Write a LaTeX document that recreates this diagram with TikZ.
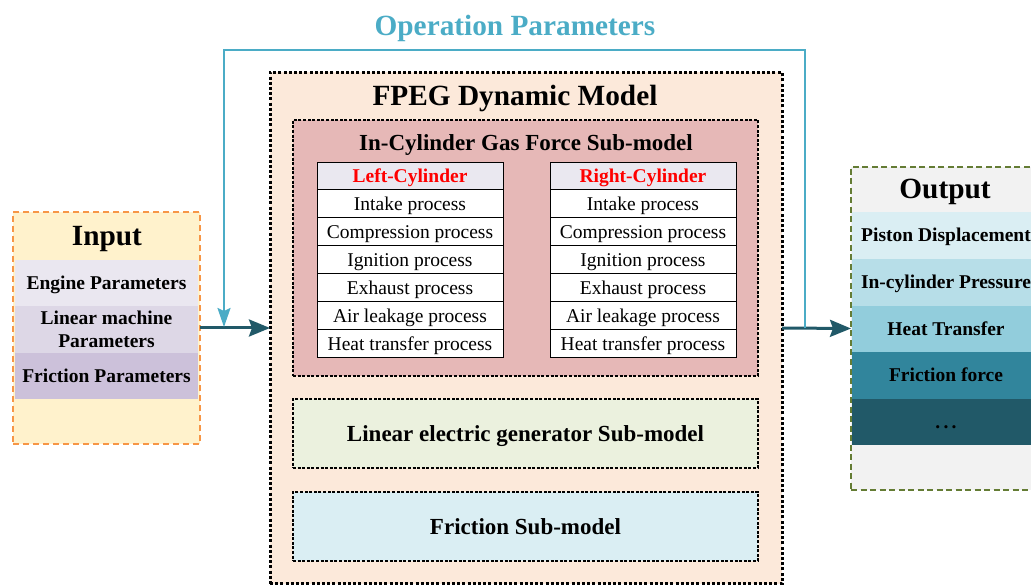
\documentclass[tikz,border=0pt]{standalone}
\usepackage{fontspec}
\setmainfont{Liberation Serif}
\usetikzlibrary{arrows.meta}
\definecolor{opblue}{RGB}{75,172,198}
\definecolor{darkteal}{RGB}{33,89,104}
\definecolor{peach}{RGB}{252,233,218}
\definecolor{rose}{RGB}{230,184,183}
\definecolor{hdr}{RGB}{234,232,240}
\definecolor{inyellow}{RGB}{255,242,204}
\definecolor{inorange}{RGB}{247,150,70}
\definecolor{inrowa}{RGB}{234,231,240}
\definecolor{inrowb}{RGB}{221,215,230}
\definecolor{inrowc}{RGB}{204,193,218}
\definecolor{outgreen}{RGB}{100,124,52}
\definecolor{outgray}{RGB}{242,242,242}
\definecolor{outa}{RGB}{218,238,243}
\definecolor{outb}{RGB}{183,222,232}
\definecolor{outc}{RGB}{146,205,220}
\definecolor{outd}{RGB}{49,133,156}
\definecolor{oute}{RGB}{33,89,104}
\definecolor{gengreen}{RGB}{235,241,222}
\definecolor{fricblue}{RGB}{218,238,243}
\newcommand{\smallfs}{\fontsize{19.5}{23}\selectfont}
\newcommand{\midfs}{\fontsize{23}{26}\selectfont\bfseries}
\newcommand{\bigfs}{\fontsize{29.3}{32}\selectfont\bfseries}
\tikzset{
  x=1pt, y=-1pt,
  area/.style={rectangle, inner sep=0pt, outer sep=0pt},
  outerbox/.style={area, draw=black, line width=3pt, dash pattern=on 3pt off 2.2pt, fill=peach},
  subbox/.style={area, draw=black, line width=2pt, dash pattern=on 3pt off 1.6pt},
  subtext/.style={font=\midfs, text height=18.5pt, text depth=3pt},
  cellbox/.style={area, draw=black, line width=0.9pt, fill=white, minimum width=186pt, minimum height=27.9pt, font=\smallfs, text height=17.5pt, text depth=4.2pt},
  hdrbox/.style={cellbox, fill=hdr, font=\smallfs\bfseries, text=red},
  rowbox/.style={area, font=\smallfs\bfseries, align=center},
  onerow/.style={rowbox, text height=17pt, text depth=4.5pt},
  mainarr/.style={draw=darkteal, line width=3pt, -{Stealth[length=21pt,width=17pt,inset=3pt]}},
  fbline/.style={draw=opblue, line width=2pt, -{Stealth[length=19pt,width=13pt,inset=3pt]}},
  title/.style={font=\bigfs, inner sep=0pt}
}
\begin{document}
\begin{tikzpicture}
\useasboundingbox (0,0) rectangle (1031,585);

% Operation parameters label
\node[title, text=opblue] (optitle) at (515,28) {Operation Parameters};

% Input box
\node[area, draw=inorange, line width=2.5pt, dash pattern=on 6pt off 4pt, fill=inyellow, minimum width=187pt, minimum height=232pt] (input) at (106.5,328) {};
\node[title] (intitle) at (107,239) {Input};
\node[onerow, fill=inrowa, minimum width=183pt, minimum height=46pt] (in1) at (106.5,283) {Engine Parameters};
\node[rowbox, fill=inrowb, minimum width=183pt, minimum height=47pt] (in2) at (106.5,329.5) {Linear machine\\Parameters};
\node[onerow, fill=inrowc, minimum width=183pt, minimum height=46pt] (in3) at (106.5,376) {Friction Parameters};

% FPEG box
\node[outerbox, minimum width=512pt, minimum height=511pt] (fpeg) at (526,328) {};
\node[title] (fpegtitle) at (515,99) {FPEG Dynamic Model};

% In-cylinder box
\node[subbox, fill=rose, minimum width=465pt, minimum height=256pt] (incyl) at (525.5,248) {};
\node[font=\midfs, inner sep=0pt] (incyltitle) at (526,145.5) {In-Cylinder Gas Force Sub-model};

% tables
\node[hdrbox] (lh) at (410,176) {Left-Cylinder};
\node[hdrbox] (rh) at (643,176) {Right-Cylinder};
\foreach \t [count=\i] in {Intake process, Compression process, Ignition process, Exhaust process, Air leakage process, Heat transfer process}{
  \node[cellbox] (l\i) at (410,{176+27.9*\i}) {\t};
  \node[cellbox] (r\i) at (643,{176+27.9*\i}) {\t};
}

% generator and friction
\node[subbox, subtext, fill=gengreen, minimum width=465pt, minimum height=69pt] (gen) at (525.5,433.5) {Linear electric generator Sub-model};
\node[subbox, subtext, fill=fricblue, minimum width=465pt, minimum height=69pt] (fric) at (525.5,526.5) {Friction Sub-model};

% Output box
\node[area, draw=outgreen, line width=2.5pt, dash pattern=on 6pt off 3.5pt, fill=outgray, minimum width=189pt, minimum height=323pt] (output) at (945.5,328.5) {};
\node[title] (outtitle) at (945,191.5) {Output};
\node[onerow, fill=outa, minimum width=188pt, minimum height=47pt] (o1) at (946,235.5) {Piston Displacement};
\node[onerow, fill=outb, minimum width=188pt, minimum height=47pt] (o2) at (946,282.5) {In-cylinder Pressure};
\node[onerow, fill=outc, minimum width=188pt, minimum height=46pt] (o3) at (946,329) {Heat Transfer};
\node[onerow, fill=outd, minimum width=188pt, minimum height=47pt] (o4) at (946,375.5) {Friction force};
\node[onerow, fill=oute, minimum width=188pt, minimum height=46pt] (o5) at (946,422) {.\,.\,.};

% main arrows
\draw[mainarr] (input.east) -- (fpeg.west);
\draw[mainarr] (fpeg.east) -- (output.west);

% feedback
\coordinate (fbs) at (805,328.5);
\coordinate (fbe) at (224,327);
\coordinate (fbtop) at (0,50);
\draw[fbline] (fbs) -- (fbs |- fbtop) -- (fbe |- fbtop) -- (fbe);
\end{tikzpicture}
\end{document}
